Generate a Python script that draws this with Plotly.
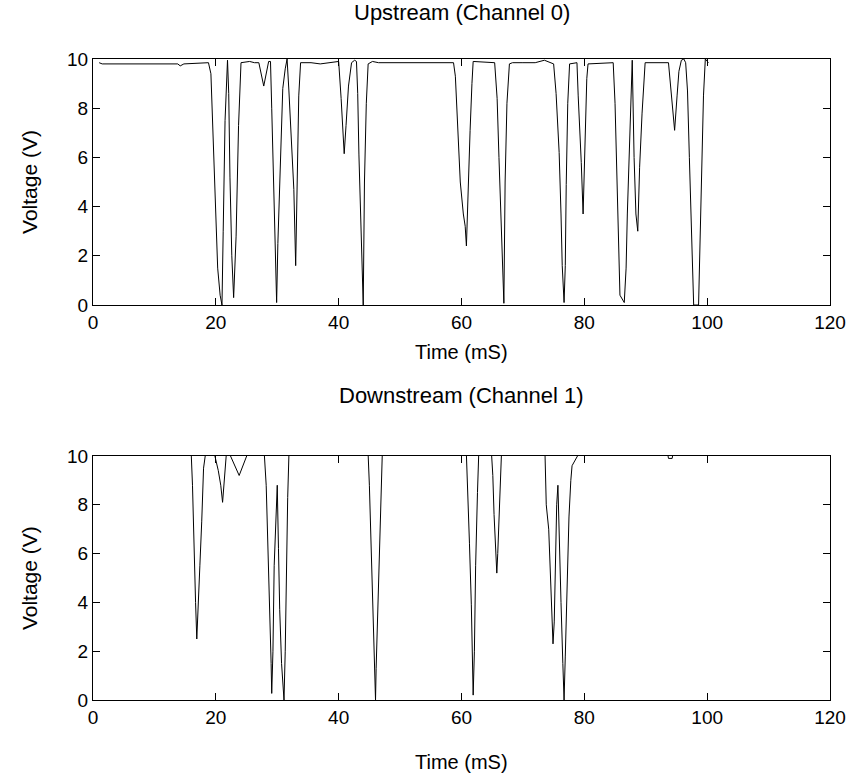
import plotly.graph_objects as go

# ---- data ----
up_t = [1.0, 1.5, 13.8, 14.2, 14.8, 17.5, 18.8, 19.2, 19.5, 19.9, 20.3, 20.7, 21.0, 21.2, 21.5, 21.9,
        22.1, 22.3, 22.6, 22.9, 23.3, 23.7, 24.1, 25.5, 26.3, 27.0, 27.8, 28.6, 28.9, 29.1, 29.4, 29.7,
        29.9, 30.1, 30.5, 30.9, 31.3, 31.6, 31.9, 32.3, 32.7, 33.0, 33.2, 33.5, 33.8, 35.5, 37.0, 39.0,
        40.0, 40.4, 40.7, 40.9, 41.2, 41.6, 42.1, 42.6, 42.9, 43.1, 43.3, 43.6, 43.8, 44.0, 44.2, 44.5,
        44.8, 45.5, 46.5, 58.7, 59.0, 59.4, 59.8, 60.3, 60.6, 60.8, 61.1, 61.4, 61.7, 61.9, 65.4, 65.8,
        66.1, 66.4, 66.7, 66.9, 67.1, 67.4, 67.8, 68.3, 70.0, 72.0, 73.5, 75.0, 75.4, 75.9, 76.2, 76.4,
        76.7, 76.9, 77.05, 77.3, 77.6, 78.8, 79.0, 79.2, 79.5, 79.8, 80.0, 80.2, 80.4, 80.6, 84.7, 85.0,
        85.3, 85.6, 85.8, 86.5, 86.8, 87.0, 87.3, 87.6, 87.8, 88.1, 88.4, 88.7, 89.0, 89.4, 89.7, 89.9,
        93.7, 94.1, 94.4, 94.7, 95.1, 95.4, 95.8, 96.2, 96.5, 96.8, 97.1, 97.4, 97.6, 97.8, 98.6, 98.9,
        99.1, 99.4, 99.7, 100.2]
up_v = [9.85, 9.8, 9.8, 9.72, 9.8, 9.85, 9.85, 9.4, 7.0, 4.3, 1.5, 0.4, 0.0, 3.0, 7.5, 9.95,
        8.6, 5.2, 2.0, 0.3, 2.8, 7.3, 9.85, 9.9, 9.85, 9.85, 8.9, 9.9, 9.9, 8.0, 5.0, 2.0,
        0.1, 2.5, 6.0, 8.8, 9.6, 10.0, 8.7, 6.7, 4.7, 1.6, 4.6, 8.5, 9.85, 9.85, 9.8, 9.85,
        9.9, 8.4, 6.7, 6.15, 7.3, 8.9, 9.85, 9.95, 9.9, 8.6, 6.1, 3.7, 1.7, 0.0, 5.0, 8.2,
        9.8, 9.9, 9.85, 9.85, 9.3, 7.1, 5.0, 3.7, 3.2, 2.4, 5.2, 7.1, 9.0, 9.9, 9.85, 8.4,
        6.0, 3.5, 1.5, 0.07, 5.0, 8.2, 9.8, 9.85, 9.85, 9.85, 9.95, 9.8, 8.6, 6.2, 3.7, 1.6,
        0.1, 1.6, 4.9, 8.2, 9.8, 9.85, 8.5, 7.5, 5.8, 3.7, 5.5, 7.5, 9.2, 9.8, 9.85, 8.2,
        5.2, 2.2, 0.4, 0.1, 1.5, 3.7, 6.2, 8.5, 9.95, 6.0, 3.7, 3.0, 5.6, 7.8, 9.3, 9.85,
        9.85, 8.7, 7.8, 7.1, 8.5, 9.5, 9.95, 10.0, 9.85, 8.7, 6.0, 3.5, 1.0, 0.0, 0.0, 3.7,
        6.2, 8.5, 10.0, 9.85]

down_t = [1.0, 16.0, 16.2, 16.4, 16.7, 16.9, 17.1, 17.4, 17.7, 18.0, 18.3, 19.8, 20.4, 20.8, 21.1,
          21.4, 21.7, 22.3, 23.8, 25.1, 27.9, 28.2, 28.5, 28.8, 29.0, 29.1, 29.3, 29.5, 29.8, 30.0,
          30.2, 30.4, 30.7, 31.1, 31.3, 31.5, 31.7, 31.9, 44.8, 45.0, 45.3, 45.6, 45.9, 46.0, 46.1,
          46.4, 46.6, 46.9, 47.1, 60.8, 61.0, 61.3, 61.6, 61.8, 61.9, 62.1, 62.3, 62.6, 62.8, 64.9,
          65.1, 65.3, 65.55, 65.75, 65.9, 66.2, 66.5, 73.6, 73.8, 74.2, 74.5, 74.8, 74.9, 75.1, 75.3,
          75.5, 75.7, 75.9, 76.2, 76.5, 76.7, 76.9, 77.2, 77.5, 77.8, 78.0, 79.0, 93.6, 93.7, 94.3,
          94.4, 100.2]
down_v = [10.05, 10.05, 8.8, 6.4, 4.0, 2.5, 3.5, 5.5, 7.3, 9.5, 10.05, 10.05, 9.4, 8.8, 8.1,
          9.2, 10.05, 10.05, 9.2, 10.05, 10.05, 8.8, 6.4, 3.8, 1.5, 0.27, 2.0, 5.5, 8.0, 8.8,
          6.2, 3.7, 1.5, 0.0, 2.0, 5.5, 8.3, 10.05, 10.05, 8.8, 6.3, 3.8, 1.3, 0.0, 1.3,
          3.8, 6.3, 8.8, 10.05, 10.05, 8.8, 6.4, 3.9, 1.5, 0.2, 2.0, 5.5, 8.5, 10.05, 10.05,
          9.2, 7.6, 6.0, 5.2, 6.0, 8.5, 10.05, 10.05, 8.0, 7.0, 5.0, 3.5, 2.3, 3.2, 5.5,
          8.0, 8.8, 6.5, 4.0, 1.5, 0.0, 1.8, 4.8, 7.5, 9.0, 9.6, 10.05, 10.05, 9.9, 9.9,
          10.05, 10.05]

x_ticks = [0, 20, 40, 60, 80, 100, 120]
y_ticks = [0, 2, 4, 6, 8, 10]
titles = ["Upstream (Channel 0)", "Downstream (Channel 1)"]
x_label = "Time (mS)"
y_label = "Voltage (V)"

FONT = "Liberation Sans, Arial, Helvetica, sans-serif"

fig = go.Figure()
fig.add_trace(go.Scatter(x=up_t, y=up_v, mode="lines", line=dict(color="black", width=1),
                         xaxis="x", yaxis="y", showlegend=False, hoverinfo="skip"))
fig.add_trace(go.Scatter(x=down_t, y=down_v, mode="lines", line=dict(color="black", width=1),
                         xaxis="x2", yaxis="y2", showlegend=False, hoverinfo="skip"))

ax_common = dict(showgrid=False, zeroline=False, showline=True, linecolor="black", linewidth=1,
                 mirror="allticks", ticks="inside", ticklen=7, tickcolor="black", tickwidth=1,
                 tickfont=dict(family=FONT, size=19, color="black"))

W, H = 858, 779
fig.update_layout(
    width=W, height=H,
    margin=dict(l=93, r=18, t=59, b=79),
    paper_bgcolor="white", plot_bgcolor="white",
    font=dict(family=FONT, color="black"),
    xaxis=dict(domain=[0, 1], anchor="y", range=[0, 120], tickvals=x_ticks, **ax_common),
    yaxis=dict(domain=[0.6162, 1], anchor="x", range=[0, 10], tickvals=y_ticks, **ax_common),
    xaxis2=dict(domain=[0, 1], anchor="y2", range=[0, 120], tickvals=x_ticks, **ax_common),
    yaxis2=dict(domain=[0, 0.3807], anchor="x2", range=[0, 10], tickvals=y_ticks, **ax_common),
)

title_font = dict(family=FONT, size=22, color="black")
xl_font = dict(family=FONT, size=20, color="black")
yl_font = dict(family=FONT, size=21, color="black")
anns = [
    dict(text=titles[0], x=0.5, y=1.0733, xref="paper", yref="paper", showarrow=False,
         xanchor="center", yanchor="middle", font=title_font),
    dict(text=titles[1], x=0.5, y=0.4743, xref="paper", yref="paper", showarrow=False,
         xanchor="center", yanchor="middle", font=title_font),
    dict(text=x_label, x=0.5, y=0.5429, xref="paper", yref="paper", showarrow=False,
         xanchor="center", yanchor="middle", font=xl_font),
    dict(text=x_label, x=0.5, y=-0.0967, xref="paper", yref="paper", showarrow=False,
         xanchor="center", yanchor="middle", font=xl_font),
    dict(text=y_label, x=-0.087, y=0.808, xref="paper", yref="paper", showarrow=False,
         xanchor="center", yanchor="middle", textangle=-90, font=yl_font),
    dict(text=y_label, x=-0.087, y=0.190, xref="paper", yref="paper", showarrow=False,
         xanchor="center", yanchor="middle", textangle=-90, font=yl_font),
]
fig.update_layout(annotations=anns)

# remove the default 8px page margin so the figure fills the window exactly
fig.write_html("out.html", config={"displayModeBar": False},
               post_script="document.body.style.margin='0';")
